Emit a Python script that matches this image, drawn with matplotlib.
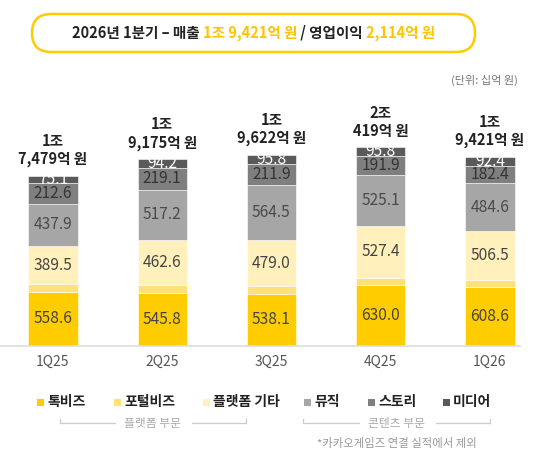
import matplotlib
matplotlib.use('Agg')
import matplotlib.pyplot as plt
from matplotlib.patches import FancyBboxPatch, Rectangle
import numpy as np

plt.rcParams['font.family'] = ['Noto Sans CJK KR', 'DejaVu Sans']

# ---- data ----
quarters = ['1Q25', '2Q25', '3Q25', '4Q25', '1Q26']
talk_biz = [558.6, 545.8, 538.1, 630.0, 608.6]
portal_biz = [74.2, 78.6, 72.9, 71.7, 67.6]
platform_etc = [389.5, 462.6, 479.0, 527.4, 506.5]
music = [437.9, 517.2, 564.5, 525.1, 484.6]
story = [212.6, 219.1, 211.9, 191.9, 182.4]
media = [75.1, 94.2, 95.8, 95.8, 92.4]
total_labels = ['1조\n7,479억 원', '1조\n9,175억 원', '1조\n9,622억 원', '2조\n419억 원', '1조\n9,421억 원']
series_names = ['톡비즈', '포털비즈', '플랫폼 기타', '뮤직', '스토리', '미디어']
title_parts = ['2026년 1분기 – 매출 ', '1조 9,421억 원', ' / 영업이익 ', '2,114억 원']
unit_text = '(단위: 십억 원)'
group_labels = ['플랫폼 부문', '콘텐츠 부문']
footnote = '*카카오게임즈 연결 실적에서 제외'

series = [talk_biz, portal_biz, platform_etc, music, story, media]
colors = ['#FFCC00', '#FFE17A', '#FFF0BC', '#A6A6A6', '#7F7F7F', '#5A5A5A']
label_colors = ['#444444', None, '#444444', '#4A4A4A', '#333333', '#FFFFFF']

W, H = 547, 458
fig = plt.figure(figsize=(W / 100, H / 100), dpi=100)

# ---- bar axes ----
ax = fig.add_axes([0 / W, 112 / H, 520 / W, 286 / H])
x = np.arange(len(quarters))
bottom = np.zeros(len(quarters))
for vals, col, lc in zip(series, colors, label_colors):
    vals = np.array(vals)
    bars = ax.bar(x, vals, width=0.45, bottom=bottom, color=col, edgecolor='white', linewidth=0.4, zorder=2)
    if lc is not None:
        for rect, xi, b, v in zip(bars, x, bottom, vals):
            t = ax.text(xi, b + v / 2, f'{v:.1f}', ha='center', va='center', color=lc,
                        fontsize=11.2, zorder=3)
            t.set_clip_path(rect)
    bottom = bottom + vals

for xi, tot, lab in zip(x, bottom, total_labels):
    ax.annotate(lab, (xi, tot), xytext=(0, 6), textcoords='offset points',
                ha='center', va='bottom', fontsize=10.5, fontweight='bold',
                color='#222222', linespacing=1.15)

ax.set_xlim(-0.485, 4.275)
ax.set_ylim(0, 2933)
for s in ['top', 'right', 'left']:
    ax.spines[s].set_visible(False)
ax.spines['bottom'].set_color('#DDDDDD')
ax.spines['bottom'].set_linewidth(1.2)
ax.set_yticks([])
ax.set_xticks(x)
ax.set_xticklabels(quarters, fontsize=10, color='#555555')
ax.tick_params(axis='x', length=0, pad=6.5)
ax.patch.set_alpha(0)

# ---- overlay axes in pixel coords ----
ov = fig.add_axes([0, 0, 1, 1])
ov.set_xlim(0, W)
ov.set_ylim(H, 0)
ov.axis('off')
ov.patch.set_alpha(0)

# title box
box = FancyBboxPatch((32, 14), 443, 38, boxstyle='round,pad=0,rounding_size=19',
                     fc='white', ec='#FFCC00', lw=1.8, mutation_aspect=1)
ov.add_patch(box)

fig.canvas.draw()
renderer = fig.canvas.get_renderer()
title_colors = ['#222222', '#FFC400', '#222222', '#FFC400']
texts = []
for t, c in zip(title_parts, title_colors):
    texts.append(ov.text(0, 33, t, fontsize=10.5, fontweight='bold', color=c, ha='left', va='center'))
widths = [tt.get_window_extent(renderer).width for tt in texts]
start = 253.5 - sum(widths) / 2
for tt, w in zip(texts, widths):
    tt.set_x(start)
    start += w

ov.text(518, 80, unit_text, fontsize=8, color='#777777', ha='right', va='center')

# legend
leg_x = [40, 117, 206, 307, 371, 446]
for lx, col, name in zip(leg_x, colors, series_names):
    ov.add_patch(Rectangle((lx - 3.5, 402 - 3.5), 7, 7, fc=col, ec='none'))
    ov.text(lx + 7, 402, name, fontsize=10, fontweight='bold', color='#222222', ha='left', va='center')

# group brackets
brackets = [(60, 246, 153), (303, 490, 397)]
for (x0, x1, xc), lab in zip(brackets, group_labels):
    t = ov.text(xc, 423, lab, fontsize=8.5, color='#AAAAAA', ha='center', va='center')
    w = t.get_window_extent(renderer).width
    ov.plot([x0, x0, xc - w / 2 - 10], [419, 423, 423], color='#CCCCCC', lw=0.9)
    ov.plot([xc + w / 2 + 10, x1, x1], [423, 423, 419], color='#CCCCCC', lw=0.9)

ov.text(397, 444, footnote, fontsize=8.2, color='#999999', ha='center', va='center')

fig.savefig('out.png', dpi=100)
